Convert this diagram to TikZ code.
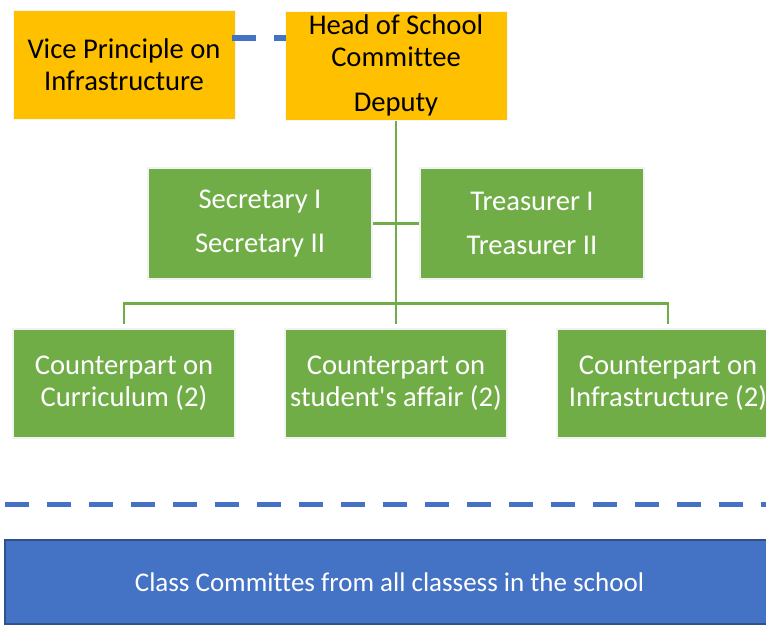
\documentclass[tikz,border=0pt]{standalone}
\usepackage{fontspec}
\setmainfont[Ligatures={NoCommon,TeXOff}]{Carlito}
\usetikzlibrary{calc}
\definecolor{orng}{HTML}{FFC000}
\definecolor{grn}{HTML}{70AD47}
\definecolor{blu}{HTML}{4472C4}
\definecolor{bluedge}{HTML}{2F528F}
\tikzset{
  box/.style={minimum width=222pt, minimum height=109pt, inner sep=0pt, align=center,
    font=\fontsize{28.6}{32}\selectfont},
  orangebox/.style={box, fill=orng, draw=white!92!gray, line width=1pt, text=black},
  greenbox/.style={box, fill=grn, draw=white!90!gray, line width=1.5pt, text=white},
  conn/.style={draw=grn, line width=2.5pt},
  dashline/.style={draw=blu, line width=5.5pt, dash pattern=on 24pt off 18pt},
}
\begin{document}
\begin{tikzpicture}[x=1pt,y=-1pt]
\useasboundingbox (0,0) rectangle (766,625);
\clip (0,0) rectangle (766,625);
% dashed link between top boxes (drawn first, boxes on top)
\coordinate (dl) at (232,38);
\coordinate (dr) at (286,38);
% top row
\node[orangebox] (vice) at (124,64.5) {Vice Principle on\\Infrastructure};
\node[orangebox] (head) at (396,65.5) {Head of School\\Committee\\[13pt]Deputy};
\draw[dashline] (dl) -- (dr);
% secretary / treasurer
\node[greenbox, minimum width=224pt, minimum height=111pt] (sec) at (260,223.5) {Secretary I\\[12pt]Secretary II};
\node[greenbox, minimum width=224pt, minimum height=111pt] (tre) at (532,223.5) {Treasurer I\\[12pt]Treasurer II};
% counterparts
\node[greenbox] (c1) at (124,383.5) {Counterpart on\\Curriculum (2)};
\node[greenbox] (c2) at (396,383.5) {Counterpart on\\student's affair (2)};
\node[greenbox] (c3) at (668,383.5) {Counterpart on\\Infrastructure (2)};
% bottom
\node[fill=blu, draw=bluedge, line width=1.2pt, minimum width=769pt, minimum height=84pt, inner sep=0pt,
  text=white, font=\fontsize{27}{30}\selectfont] (cls) at (389.5,582) {Class Committes from all classess in the school};
% connectors
\coordinate (bl) at (5,504.5);
\coordinate (br) at (770,504.5);
\draw[dashline] (bl) -- (br);
\draw[conn] (head.south) -- ([yshift=4pt]c2.north);
\draw[conn] (sec.east) -- (tre.west);
\draw[conn] ([yshift=25pt]c1.north) -- ([yshift=25pt]c3.north);
\draw[conn] ([yshift=26.2pt]c1.north) -- ([yshift=4pt]c1.north);
\draw[conn] ([yshift=26.2pt]c3.north) -- ([yshift=4pt]c3.north);
\end{tikzpicture}
\end{document}
